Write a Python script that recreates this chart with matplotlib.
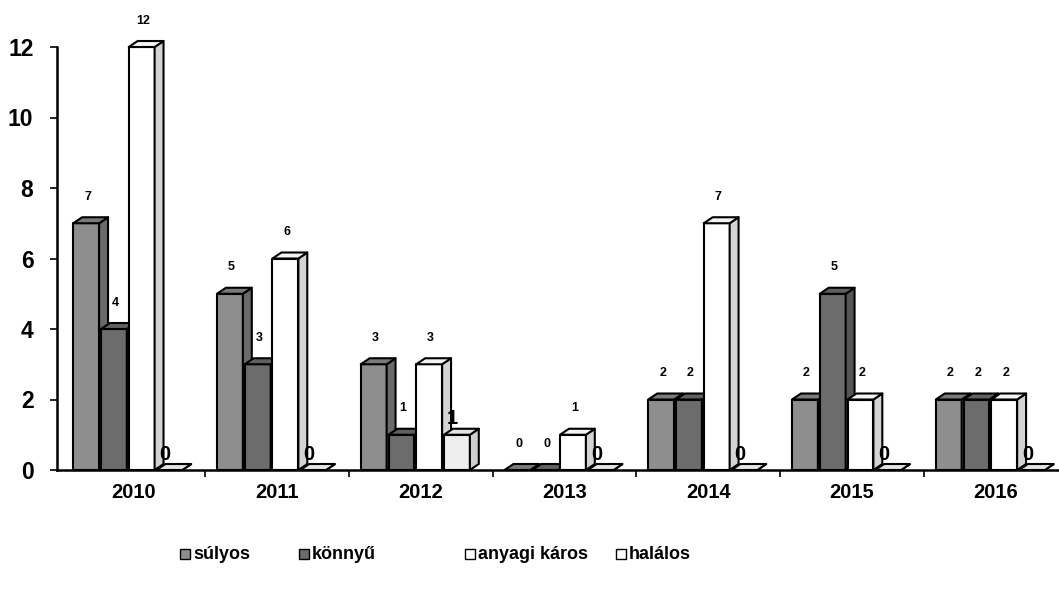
import numpy as np
import matplotlib.pyplot as plt
from matplotlib.patches import Polygon, Rectangle

plt.rcParams["font.family"] = ["Liberation Sans", "DejaVu Sans"]
plt.rcParams["font.weight"] = "bold"

years = ["2010", "2011", "2012", "2013", "2014", "2015", "2016"]
series = ["súlyos", "könnyű", "anyagi káros", "halálos"]
sulyos = [7, 5, 3, 0, 2, 2, 2]
konnyu = [4, 3, 1, 0, 2, 5, 2]
anyagi = [12, 6, 3, 1, 7, 2, 2]
halalos = [0, 0, 1, 0, 0, 0, 0]
values = [sulyos, konnyu, anyagi, halalos]

# front / side / top colours per series
front_c = ["#8e8e8e", "#6c6c6c", "#ffffff", "#eeeeee"]
side_c = ["#6a6a6a", "#555555", "#d4d4d4", "#cfcfcf"]
top_c = ["#7a7a7a", "#606060", "#f4f4f4", "#e4e4e4"]

W = 0.18      # bar width (group units)
PITCH = 0.193
DX = 0.062    # 3d depth, x
DY = 0.17     # 3d depth, y (value units)

fig = plt.figure(figsize=(10.59, 5.92), dpi=100)
ax = fig.add_axes([57 / 1059, 122 / 592, 1 - 57 / 1059, 423 / 592])
ax.set_xlim(-0.53, 6.44)
ax.set_ylim(0, 12)


def draw_bar(x0, h, k, z):
    kw = dict(edgecolor="black", linewidth=1.5, clip_on=False, zorder=z,
              joinstyle="round")
    ax.add_patch(Rectangle((x0, 0), W, h, facecolor=front_c[k], **kw))
    ax.add_patch(Polygon([(x0 + W, 0), (x0 + W + DX, DY), (x0 + W + DX, h + DY),
                          (x0 + W, h)], facecolor=side_c[k], **kw))
    ax.add_patch(Polygon([(x0, h), (x0 + DX, h + DY), (x0 + W + DX, h + DY),
                          (x0 + W, h)], facecolor=top_c[k], **kw))


z = 3
for i in range(len(years)):
    for k, vals in enumerate(values):
        v = vals[i]
        x0 = i - 2 * PITCH - DX / 2 + k * PITCH
        draw_bar(x0, v, k, z)
        z += 1
        if k == 3:
            ax.text(x0 + 0.06, v + 0.45, str(v), fontsize=14.5, fontweight="bold",
                    ha="center", va="center", zorder=100, clip_on=False)
        else:
            ax.text(x0 + W / 2 + 0.01, v + 0.75, str(v), fontsize=9,
                    fontweight="bold", ha="center", va="center", zorder=100,
                    clip_on=False)

for s in ["top", "right"]:
    ax.spines[s].set_visible(False)
ax.spines["left"].set_linewidth(1.8)
ax.spines["bottom"].set_linewidth(1.8)
ax.spines["bottom"].set_zorder(2)

ax.set_yticks(np.arange(0, 13, 2))
ax.tick_params(axis="y", labelsize=16.5, length=5, width=1.2, pad=12)
ax.set_xticks(range(len(years)))
ax.set_xticklabels(years, fontsize=14.5, fontweight="bold")
ax.tick_params(axis="x", length=0, pad=9)
ax.set_xticks(np.arange(0.5, len(years) - 0.5, 1), minor=True)
ax.tick_params(axis="x", which="minor", length=5, width=1.2)
for lab in ax.get_yticklabels():
    lab.set_fontweight("bold")

# legend along the bottom
leg_x = [180, 299, 465, 616]
for k, name in enumerate(series):
    x = leg_x[k] / 1059
    y = 40 / 592
    fig.patches.append(Rectangle((x, y - 0.012), 10 / 1059, 10 / 592,
                                 transform=fig.transFigure,
                                 facecolor=front_c[k] if k < 2 else "white",
                                 edgecolor="black", linewidth=1.0))
    fig.text(x + 13 / 1059, y - 0.004, name, fontsize=13, fontweight="bold",
             ha="left", va="center")

fig.savefig("out.png", dpi=100)
